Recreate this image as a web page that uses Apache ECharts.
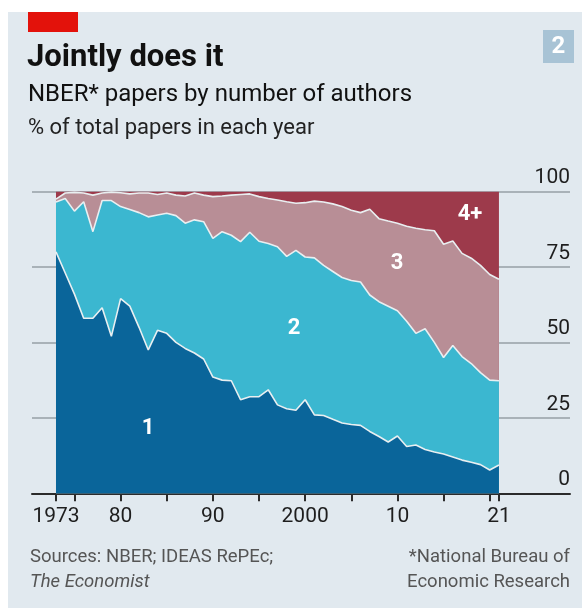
<!DOCTYPE html>
<html>
<head>
<meta charset="utf-8">
<script src="https://cdn.jsdelivr.net/npm/echarts@6/dist/echarts.min.js"></script>
<style>
  html, body { margin: 0; padding: 0; background: #fff; }
  #wrap { position: relative; width: 582px; height: 609px; }
  #panel { position: absolute; left: 8px; top: 12px; width: 574px; height: 596px; background: #e1e9ef; }
  #chart { position: absolute; left: 0; top: 0; width: 582px; height: 609px; }
</style>
</head>
<body>
<div id="wrap">
  <div id="panel"></div>
  <div id="chart"></div>
</div>
<script>
  // share of NBER papers (%) by number of authors
  const years = [1973, 1974, 1975, 1976, 1977, 1978, 1979, 1980, 1981, 1982,
    1983, 1984, 1985, 1986, 1987, 1988, 1989, 1990, 1991, 1992,
    1993, 1994, 1995, 1996, 1997, 1998, 1999, 2000, 2001, 2002,
    2003, 2004, 2005, 2006, 2007, 2008, 2009, 2010, 2011, 2012,
    2013, 2014, 2015, 2016, 2017, 2018, 2019, 2020, 2021]
  const oneAuthor = [80, 73, 66, 58, 58, 61.5, 52, 64.5, 62, 55,
    47.5, 54, 53, 50, 48, 46.5, 44.5, 38.5, 37.5, 37.3,
    31, 32, 32, 34.3, 29.3, 28, 27.5, 31, 26, 25.8,
    24.5, 23.3, 22.8, 22.5, 20.5, 18.8, 17, 19, 15.5, 16,
    14.5, 13.7, 13, 12, 11, 10.3, 9.5, 7.7, 9.4]
  const twoAuthors = [16.5, 24.7, 27.5, 38.6, 28.7, 35.5, 45, 30.5, 32, 38,
    44.1, 38.2, 39.8, 42, 41.5, 44.1, 45.5, 46, 49.2, 48.2,
    52.4, 54.5, 51.5, 48.5, 52.4, 50.5, 53, 47.3, 52, 49.7,
    49, 48.2, 47.7, 47.5, 45.2, 44.7, 45, 41.5, 41.5, 37,
    40, 36.3, 32, 37, 34.3, 32.7, 30.5, 29.8, 27.9]
  const threeAuthors = [1, 1.8, 6.2, 2.9, 12.1, 2.5, 2.8, 4.6, 5.2, 6.5,
    7.9, 6.8, 6.7, 6.8, 9, 8.9, 8.8, 13.8, 11.8, 13.3,
    15.6, 12.7, 14.8, 14.9, 15.5, 18.1, 15.6, 18, 18.8, 21,
    22.4, 23.5, 23.3, 23, 28.4, 27.5, 28.2, 29, 31.5, 34.8,
    32.8, 37, 37.5, 34.6, 34.2, 34.9, 35.5, 35, 33.6]
  const fourPlus = [2.5, 0.5, 0.3, 0.5, 1.2, 0.5, 0.2, 0.4, 0.8, 0.5,
    0.5, 1, 0.5, 1.2, 1.5, 0.5, 1.2, 1.7, 1.5, 1.2,
    1, 0.8, 1.7, 2.3, 2.8, 3.4, 3.9, 3.7, 3.2, 3.5,
    4.1, 5, 6.2, 7, 5.9, 9, 9.8, 10.5, 11.5, 12.2,
    12.7, 13, 17.5, 16.4, 20.5, 22.1, 24.5, 27.5, 29.1]

  const groupNames = ['1', '2', '3', '4+']
  const tickYears = [1973, 1975, 1980, 1985, 1990, 1995, 2000, 2005, 2010, 2015, 2020, 2021]
  const labelYears = [1973, 1980, 1990, 2000, 2010, 2021]
  const labelText = { 1973: '1973', 1980: '80', 1990: '90', 2000: '2000', 2010: '10', 2021: '21' }

  const colors = ['#0a659a', '#3bb7d0', '#b88e96', '#9d3a4b']
  const groups = [oneAuthor, twoAuthors, threeAuthors, fourPlus]

  // running totals, so each area can be filled down to zero and layered
  function cumulative(k) {
    return years.map((yr, i) => {
      let s = 0
      for (let j = 0; j <= k; j++) s += groups[j][i]
      return [yr, Math.round(s * 10) / 10]
    })
  }

  const series = []
  for (let k = 3; k >= 0; k--) {
    series.push({
      name: groupNames[k],
      type: 'line',
      data: cumulative(k),
      symbol: 'none',
      smooth: false,
      lineStyle: k === 3 ? { width: 0 } : { color: '#e9eff1', width: 1.6 },
      areaStyle: { color: colors[k], opacity: 1, origin: 'start' },
      itemStyle: { color: colors[k] },
      z: 2 + (3 - k)
    })
  }

  const numFont = 'Roboto, "Noto Sans", sans-serif'
  const chart = echarts.init(document.getElementById('chart'), null, { renderer: 'canvas' })
  chart.setOption({
    backgroundColor: 'transparent',
    animation: false,
    grid: { left: 32, right: 12, top: 191.5, bottom: 115.7, containLabel: false },
    xAxis: {
      type: 'value',
      min: 1970.4,
      max: 2028.7,
      axisLine: { show: true, lineStyle: { color: '#2b2b2b', width: 2 } },
      axisTick: { show: true, customValues: tickYears, length: 8, lineStyle: { color: '#2b2b2b', width: 2 } },
      axisLabel: {
        customValues: labelYears,
        formatter: (v) => labelText[v] || '',
        color: '#1e1e1e',
        fontSize: 21,
        fontFamily: numFont,
        margin: 13
      },
      splitLine: { show: false }
    },
    yAxis: {
      type: 'value',
      position: 'right',
      min: 0,
      max: 100,
      interval: 25,
      axisLine: { show: false },
      axisTick: { show: false },
      axisLabel: {
        inside: true,
        color: '#1e1e1e',
        fontSize: 21,
        fontFamily: numFont,
        align: 'right',
        verticalAlign: 'bottom',
        margin: 0,
        padding: [0, 0, 3, 0],
        showMinLabel: true,
        showMaxLabel: true
      },
      splitLine: { show: true, lineStyle: { color: '#a9b2b8', width: 2 } }
    },
    series: series,
    graphic: [
      { type: 'rect', shape: { x: 28, y: 12, width: 50, height: 20 }, style: { fill: '#e3120b' } },
      { type: 'rect', shape: { x: 543, y: 30, width: 31, height: 33 }, style: { fill: '#a8c3d5' } },
      { type: 'text', x: 558.5, y: 47, style: { text: '2', fill: '#fff', font: 'bold 24px Roboto, sans-serif', align: 'center', verticalAlign: 'middle' } },
      { type: 'text', x: 27, y: 58, style: { text: 'Jointly does it', fill: '#111', font: 'bold 31px Roboto, sans-serif', align: 'left', verticalAlign: 'middle' } },
      { type: 'text', x: 28, y: 95, style: { text: 'NBER* papers by number of authors', fill: '#111', font: '24px Roboto, sans-serif', align: 'left', verticalAlign: 'middle' } },
      { type: 'text', x: 28, y: 128, style: { text: '% of total papers in each year', fill: '#222', font: '22px Roboto, sans-serif', align: 'left', verticalAlign: 'middle' } },
      { type: 'text', x: 30, y: 557, style: { text: 'Sources: NBER; IDEAS RePEc;', fill: '#555', font: '18.5px Roboto, sans-serif', align: 'left', verticalAlign: 'middle' } },
      { type: 'text', x: 30, y: 582, style: { text: 'The Economist', fill: '#555', font: 'italic 18.5px Roboto, sans-serif', align: 'left', verticalAlign: 'middle' } },
      { type: 'text', x: 570, y: 557, style: { text: '*National Bureau of', fill: '#555', font: '18.5px Roboto, sans-serif', align: 'right', verticalAlign: 'middle' } },
      { type: 'text', x: 570, y: 582, style: { text: 'Economic Research', fill: '#555', font: '18.5px Roboto, sans-serif', align: 'right', verticalAlign: 'middle' } },
      { type: 'text', x: 148, y: 428, z: 100, style: { text: groupNames[0], fill: '#fff', font: 'bold 22px Roboto, sans-serif', align: 'center', verticalAlign: 'middle' } },
      { type: 'text', x: 294, y: 328, z: 100, style: { text: groupNames[1], fill: '#fff', font: 'bold 22px Roboto, sans-serif', align: 'center', verticalAlign: 'middle' } },
      { type: 'text', x: 397, y: 263, z: 100, style: { text: groupNames[2], fill: '#fff', font: 'bold 22px Roboto, sans-serif', align: 'center', verticalAlign: 'middle' } },
      { type: 'text', x: 470, y: 214, z: 100, style: { text: groupNames[3], fill: '#fff', font: 'bold 22px Roboto, sans-serif', align: 'center', verticalAlign: 'middle' } }
    ]
  })
</script>
</body>
</html>
